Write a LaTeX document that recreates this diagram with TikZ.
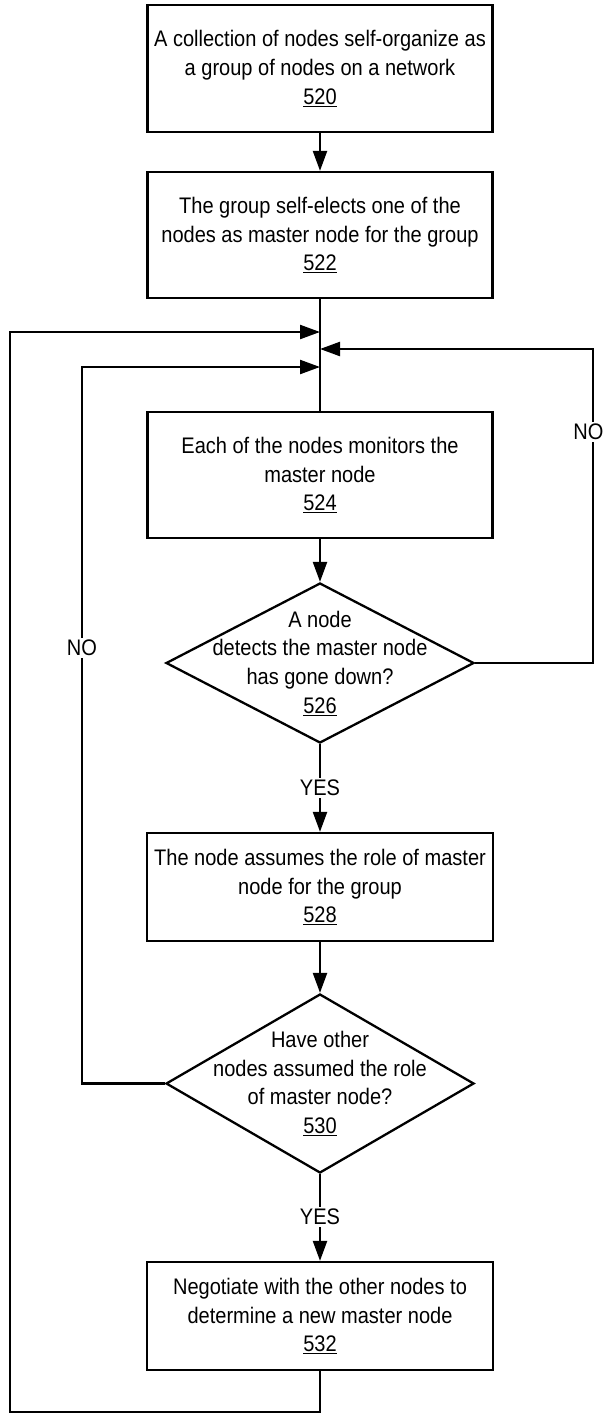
\documentclass[tikz,border=0pt]{standalone}
\usepackage{fontspec}
\setmainfont{Liberation Sans}[FakeStretch=0.89]
\usetikzlibrary{arrows.meta,shapes.geometric}
\newcommand\fsz{\fontsize{22.5}{28.7}\selectfont}
\begin{document}
\begin{tikzpicture}[x=1pt,y=-1pt,line width=2.3pt,
  box/.style={draw,rectangle,inner sep=0pt,align=center,font=\fsz,minimum width=345pt},
  dia/.style={draw,diamond,inner sep=0pt,minimum width=308pt},
  txt/.style={align=center,font=\fsz,inner sep=0pt},
  lbl/.style={fill=white,inner sep=2pt,font=\fsz},
  arr/.style={-{Triangle[length=20pt,width=14pt]}}]
\useasboundingbox (0,0) rectangle (605,1414);
% boxes
\node[box,minimum height=127pt] (b520) at (320,68.5) {A collection of nodes self-organize as\\a group of nodes on a network\\\underline{520}};
\node[box,minimum height=126pt] (b522) at (320,235) {The group self-elects one of the\\nodes as master node for the group\\\underline{522}};
\node[box,minimum height=126pt] (b524) at (320,475) {Each of the nodes monitors the\\master node\\\underline{524}};
\node[dia,minimum height=160pt] (d526) at (320,663) {};
\node[txt] (t526) at (d526.center) {A node\\detects the master node\\has gone down?\\\underline{526}};
\node[box,minimum width=346pt,minimum height=108pt] (b528) at (320,887) {The node assumes the role of master\\node for the group\\\underline{528}};
\node[dia,minimum height=179pt] (d530) at (320,1083.5) {};
\node[txt] (t530) at (d530.center) {Have other\\nodes assumed the role\\of master node?\\\underline{530}};
\node[box,minimum width=346pt,minimum height=108pt] (b532) at (320,1316) {Negotiate with the other nodes to\\determine a new master node\\\underline{532}};
% junction points
\coordinate (j1) at (320,332);
\coordinate (j2) at (320,349);
\coordinate (j3) at (320,367);
\coordinate (r1) at (593,663);
\coordinate (r2) at (593,349);
\coordinate (l1) at (82,1083.5);
\coordinate (l2) at (82,367);
\coordinate (o1) at (320,1412);
\coordinate (o2) at (10,1412);
\coordinate (o3) at (10,332);
% connectors
\draw[arr] (b520.south) -- (b522.north);
\draw (b522.south) -- (b524.north);
\draw[arr] (b524.south) -- (d526.north);
\draw[arr] (d526.south) -- (b528.north);
\draw[arr] (b528.south) -- (d530.north);
\draw[arr] (d530.south) -- (b532.north);
\draw[arr] (d526.east) -- (r1) -- (r2) -- (j2);
\draw[arr] (d530.west) -- (l1) -- (l2) -- (j3);
\draw[arr] (b532.south) -- (o1) -- (o2) -- (o3) -- (j1);
% labels
\node[lbl] (yes1) at (320,788) {YES};
\node[lbl] (yes2) at (320,1217) {YES};
\node[lbl,anchor=east,inner xsep=0.5pt] (no1) at (605,432) {NO};
\node[lbl] (no2) at (82,648) {NO};
\end{tikzpicture}
\end{document}
